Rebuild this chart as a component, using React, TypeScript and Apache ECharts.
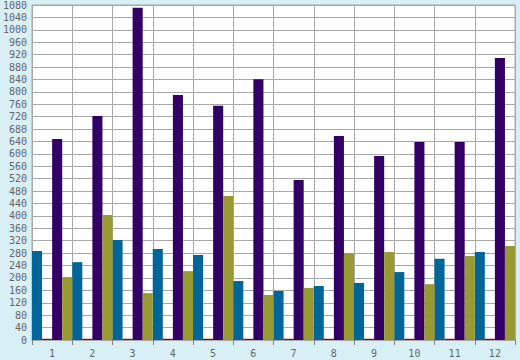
import React, { useEffect, useRef } from "react";
import * as echarts from "echarts";

const categories = ["1", "2", "3", "4", "5", "6", "7", "8", "9", "10", "11", "12"];
const blueValues = [287, 251, 322, 293, 274, 190, 158, 174, 184, 219, 262, 284];
const redValues = [4, 4, 4, 4, 4, 4, 4, 4, 4, 4, 4, 4];
const purpleValues = [648, 722, 1071, 790, 755, 841, 516, 658, 593, 638, 638, 909];
const oliveValues = [203, 403, 151, 222, 464, 145, 168, 280, 284, 180, 271, 303];

const FONT = "DejaVu Sans Mono";

export default function App() {
  const ref = useRef<HTMLDivElement>(null);
  useEffect(() => {
    if (!ref.current) return;
    const chart = echarts.init(ref.current, undefined, { renderer: "svg" });
    const mk = (data: number[], color: string) => ({
      type: "bar",
      data,
      barGap: "0%",
      barCategoryGap: "0%",
      itemStyle: { color },
    });
    chart.setOption({
      animation: false,
      backgroundColor: "#D9EFF6",
      grid: {
        left: 32,
        right: 5,
        top: 5,
        bottom: 20,
        containLabel: false,
        outerBoundsMode: "none",
        show: true,
        backgroundColor: "#ffffff",
        borderColor: "#A8A8A8",
        borderWidth: 1,
      },
      xAxis: {
        type: "category",
        data: categories,
        boundaryGap: true,
        axisLine: { show: true, lineStyle: { color: "#A8A8A8" } },
        axisTick: { show: true, length: 5, lineStyle: { color: "#808080" } },
        axisLabel: { fontFamily: FONT, fontSize: 10, color: "#666666", margin: 8 },
        splitLine: { show: true, lineStyle: { color: "#A8A8A8", width: 1 } },
      },
      yAxis: {
        type: "value",
        min: 0,
        max: 1080,
        interval: 40,
        axisLine: { show: false },
        axisTick: { show: false },
        axisLabel: {
          fontFamily: FONT,
          fontSize: 10,
          color: "#666666",
          margin: 5,
          formatter: (v: number) => String(v),
        },
        splitLine: { show: true, lineStyle: { color: "#A8A8A8", width: 1 } },
      },
      series: [
        mk(blueValues, "#006699"),
        mk(redValues, "#990000"),
        mk(purpleValues, "#330066"),
        mk(oliveValues, "#999933"),
      ],
    });
    return () => chart.dispose();
  }, []);
  return <div ref={ref} style={{ width: 520, height: 360, position: "absolute", left: 0, top: 0 }} />;
}
